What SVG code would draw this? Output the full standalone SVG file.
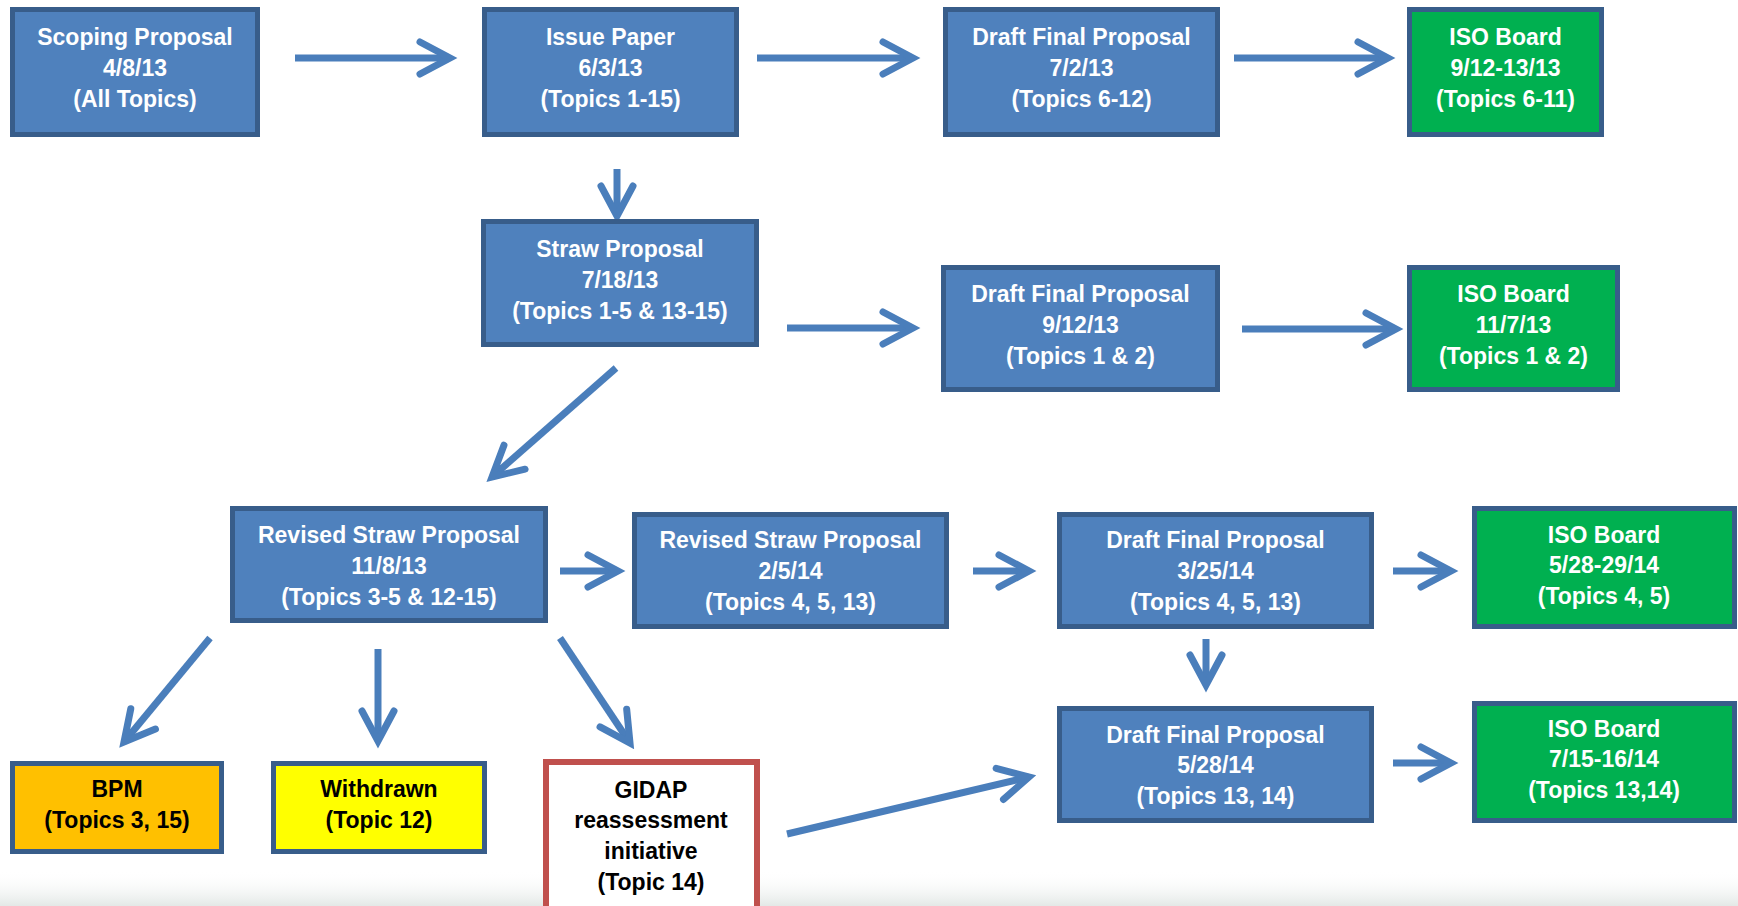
<svg xmlns="http://www.w3.org/2000/svg" width="1738" height="906" viewBox="0 0 1738 906">
<defs>
<style>
.blue{fill:#4F81BD;stroke:#385D8A;stroke-width:5}
.green{fill:#00B050;stroke:#385D8A;stroke-width:5}
.orange{fill:#FFC000;stroke:#385D8A;stroke-width:5}
.yellow{fill:#FFFF00;stroke:#385D8A;stroke-width:5}
.red{fill:#FFFFFF;stroke:#C0504D;stroke-width:6}
text{font-family:"Liberation Sans",Arial,sans-serif;font-weight:bold;font-size:23px;text-anchor:middle}
.w{fill:#FFFFFF}
.k{fill:#000000}
.conn line{stroke:#4A7EBB;stroke-width:7;fill:none;marker-end:url(#head)}
</style>
<marker id="head" markerUnits="userSpaceOnUse" orient="auto" markerWidth="80" markerHeight="80" refX="0" refY="0" overflow="visible">
<path d="M-30,-16 L0,0 L-30,16" fill="none" stroke="#4A7EBB" stroke-width="7" stroke-linecap="round" stroke-linejoin="miter"/>
</marker>
<linearGradient id="fade" x1="0" y1="0" x2="0" y2="1">
<stop offset="0" stop-color="#FFFFFF" stop-opacity="0"/>
<stop offset="1" stop-color="#E3E8E6" stop-opacity="1"/>
</linearGradient>
</defs>
<rect x="0" y="0" width="1738" height="906" fill="#FFFFFF"/>
<rect x="0" y="870" width="1738" height="36" fill="url(#fade)"/>

<g id="connectors" class="conn">
<line x1="295" y1="58" x2="450" y2="58"/>
<line x1="757" y1="58" x2="913" y2="58"/>
<line x1="1234" y1="58" x2="1388" y2="58"/>
<line x1="617" y1="169" x2="617" y2="216"/>
<line x1="787" y1="328" x2="913" y2="328"/>
<line x1="1242" y1="329" x2="1396" y2="329"/>
<line x1="616" y1="368" x2="492" y2="477"/>
<line x1="560" y1="571" x2="618" y2="571"/>
<line x1="973" y1="571" x2="1029" y2="571"/>
<line x1="1393" y1="571" x2="1451" y2="571"/>
<line x1="1206" y1="639" x2="1206" y2="685"/>
<line x1="1393" y1="763" x2="1451" y2="763"/>
<line x1="210" y1="638" x2="124" y2="742"/>
<line x1="378" y1="649" x2="378" y2="741"/>
<line x1="560" y1="638" x2="630" y2="743"/>
<line x1="787" y1="834" x2="1029" y2="777"/>
</g>

<g id="scoping">
<rect class="blue" x="12.5" y="9.5" width="245" height="125"/>
<text class="w" x="135" y="45">Scoping Proposal</text>
<text class="w" x="135" y="76">4/8/13</text>
<text class="w" x="135" y="107">(All Topics)</text>
</g>
<g id="issue">
<rect class="blue" x="484.5" y="9.5" width="252" height="125"/>
<text class="w" x="610.5" y="45">Issue Paper</text>
<text class="w" x="610.5" y="76">6/3/13</text>
<text class="w" x="610.5" y="107">(Topics 1-15)</text>
</g>
<g id="dfp1">
<rect class="blue" x="945.5" y="9.5" width="272" height="125"/>
<text class="w" x="1081.5" y="45">Draft Final Proposal</text>
<text class="w" x="1081.5" y="76">7/2/13</text>
<text class="w" x="1081.5" y="107">(Topics 6-12)</text>
</g>
<g id="iso1">
<rect class="green" x="1409.5" y="9.5" width="192" height="125"/>
<text class="w" x="1505.5" y="45">ISO Board</text>
<text class="w" x="1505.5" y="76">9/12-13/13</text>
<text class="w" x="1505.5" y="107">(Topics 6-11)</text>
</g>
<g id="straw">
<rect class="blue" x="483.5" y="221.5" width="273" height="123"/>
<text class="w" x="620" y="257">Straw Proposal</text>
<text class="w" x="620" y="288">7/18/13</text>
<text class="w" x="620" y="319">(Topics 1-5 &amp; 13-15)</text>
</g>
<g id="dfp2">
<rect class="blue" x="943.5" y="267.5" width="274" height="122"/>
<text class="w" x="1080.5" y="302">Draft Final Proposal</text>
<text class="w" x="1080.5" y="333">9/12/13</text>
<text class="w" x="1080.5" y="364">(Topics 1 &amp; 2)</text>
</g>
<g id="iso2">
<rect class="green" x="1409.5" y="267.5" width="208" height="122"/>
<text class="w" x="1513.5" y="302">ISO Board</text>
<text class="w" x="1513.5" y="333">11/7/13</text>
<text class="w" x="1513.5" y="364">(Topics 1 &amp; 2)</text>
</g>
<g id="rs1">
<rect class="blue" x="232.5" y="508.5" width="313" height="112"/>
<text class="w" x="389" y="543">Revised Straw Proposal</text>
<text class="w" x="389" y="574">11/8/13</text>
<text class="w" x="389" y="605">(Topics 3-5 &amp; 12-15)</text>
</g>
<g id="rs2">
<rect class="blue" x="634.5" y="514.5" width="312" height="112"/>
<text class="w" x="790.5" y="548">Revised Straw Proposal</text>
<text class="w" x="790.5" y="579">2/5/14</text>
<text class="w" x="790.5" y="610">(Topics 4, 5, 13)</text>
</g>
<g id="dfp3">
<rect class="blue" x="1059.5" y="514.5" width="312" height="112"/>
<text class="w" x="1215.5" y="548">Draft Final Proposal</text>
<text class="w" x="1215.5" y="579">3/25/14</text>
<text class="w" x="1215.5" y="610">(Topics 4, 5, 13)</text>
</g>
<g id="iso3">
<rect class="green" x="1474.5" y="508.5" width="260" height="118"/>
<text class="w" x="1604" y="543">ISO Board</text>
<text class="w" x="1604" y="573">5/28-29/14</text>
<text class="w" x="1604" y="604">(Topics 4, 5)</text>
</g>
<g id="dfp4">
<rect class="blue" x="1059.5" y="708.5" width="312" height="112"/>
<text class="w" x="1215.5" y="743">Draft Final Proposal</text>
<text class="w" x="1215.5" y="773">5/28/14</text>
<text class="w" x="1215.5" y="804">(Topics 13, 14)</text>
</g>
<g id="iso4">
<rect class="green" x="1474.5" y="703.5" width="260" height="117"/>
<text class="w" x="1604" y="737">ISO Board</text>
<text class="w" x="1604" y="767">7/15-16/14</text>
<text class="w" x="1604" y="798">(Topics 13,14)</text>
</g>
<g id="bpm">
<rect class="orange" x="12.5" y="763.5" width="209" height="88"/>
<text class="k" x="117" y="797">BPM</text>
<text class="k" x="117" y="828">(Topics 3, 15)</text>
</g>
<g id="withdrawn">
<rect class="yellow" x="273.5" y="763.5" width="211" height="88"/>
<text class="k" x="379" y="797">Withdrawn</text>
<text class="k" x="379" y="828">(Topic 12)</text>
</g>
<g id="gidap">
<rect class="red" x="546" y="762" width="211" height="160"/>
<text class="k" x="651" y="798">GIDAP</text>
<text class="k" x="651" y="828">reassessment</text>
<text class="k" x="651" y="859">initiative</text>
<text class="k" x="651" y="890">(Topic 14)</text>
</g>
</svg>
